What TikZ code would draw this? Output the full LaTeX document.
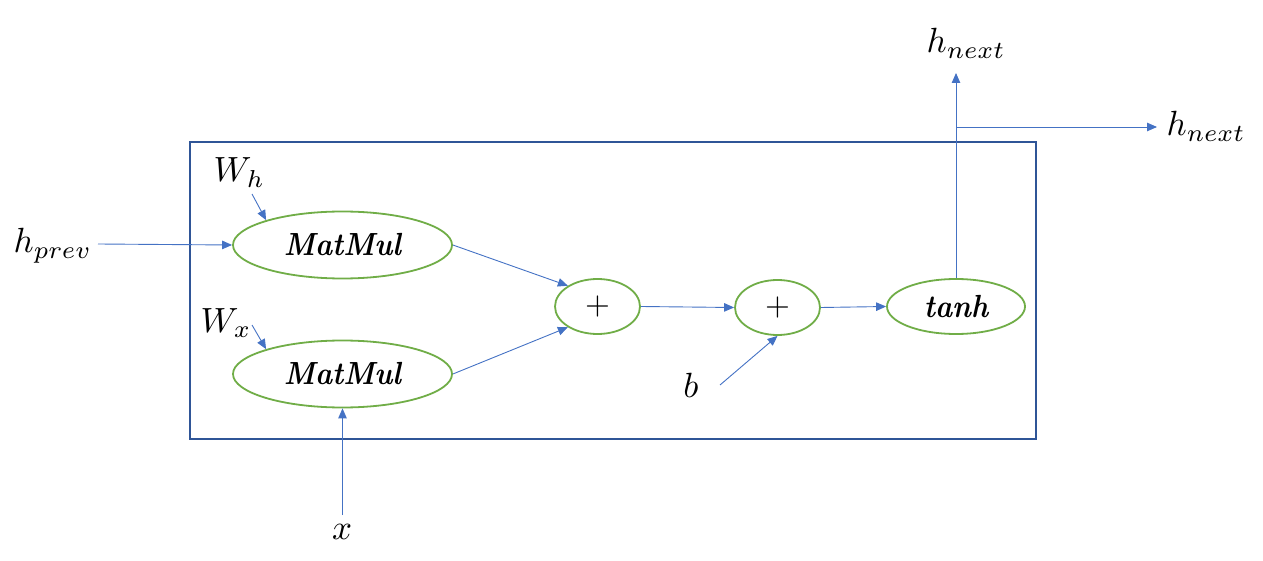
\documentclass[tikz,border=0pt]{standalone}
\usepackage{graphicx}
\usetikzlibrary{arrows.meta,shapes.geometric}
\definecolor{arrowblue}{HTML}{4472C4}
\definecolor{boxblue}{HTML}{2F5597}
\definecolor{opgreen}{HTML}{70AD47}
\newcommand{\optext}[1]{\scalebox{2.9}[3.2]{\bfseries\itshape #1}}
\newcommand{\plustext}{\scalebox{3.2}{$+$}}
\tikzset{
  opnode/.style={ellipse, draw=opgreen, line width=1.8pt, inner sep=0pt, fill=white},
  mm/.style={opnode, minimum width=219pt, minimum height=67pt},
  plusnode/.style={opnode, minimum width=85pt, minimum height=55pt},
  lbl/.style={inner sep=0pt, anchor=base west, scale=3.5},
  flow/.style={draw=arrowblue, line width=0.9pt,
    -{Triangle[length=10pt,width=8.5pt]}, arrowblue},
  outer/.style={draw=boxblue, line width=1.8pt}
}
\begin{document}
\begin{tikzpicture}[x=1pt,y=-1pt]
\useasboundingbox (0,0) rectangle (1263,561);
% frame
\draw[outer] (190,142) rectangle (1036,439);
% operation nodes
\node[mm] (m1) at (342.5,245) {\optext{MatMul}};
\node[mm] (m2) at (342.5,374) {\optext{MatMul}};
\node[plusnode] (p1) at (597.5,306.5) {\plustext};
\node[plusnode] (p2) at (777.5,307.5) {\plustext};
\node[opnode, minimum width=138pt, minimum height=55pt] (t) at (956,306.5) {\optext{tanh}};
% labels
\node[lbl] (hprev) at (13,253) {$h_{prev}$};
\node[lbl] (wh) at (213,182) {$W_h$};
\node[lbl] (wx) at (200,332) {$W_x$};
\node[lbl, anchor=base] (xin) at (342,539) {$x$};
\node[lbl, anchor=base] (bin) at (691,397) {$b$};
\node[lbl] (hn1) at (926,53) {$h_{next}$};
\node[lbl] (hn2) at (1166,136) {$h_{next}$};
% free ends
\coordinate (hps) at (98,244);
\coordinate (whs) at (252,194);
\coordinate (wxs) at (252,325);
\coordinate (xs) at (342.5,515);
\coordinate (bs) at (720,385);
\coordinate (up) at (956,73);
\coordinate (br) at (956,127);
\coordinate (rt) at (1157,127);
% connectors
\draw[flow] (hps) -- (m1.west);
\draw[flow] (whs) -- (m1.162);
\draw[flow] (wxs) -- (m2.162);
\draw[flow] (xs) -- (m2.south);
\draw[flow] (m1.east) -- (p1.145);
\draw[flow] (m2.east) -- (p1.215);
\draw[flow] (p1.east) -- (p2.west);
\draw[flow] (bs) -- (p2.south);
\draw[flow] (p2.east) -- (t.west);
\draw[flow] (t.north) -- (up);
\draw[flow] (br) -- (rt);
\end{tikzpicture}
\end{document}
